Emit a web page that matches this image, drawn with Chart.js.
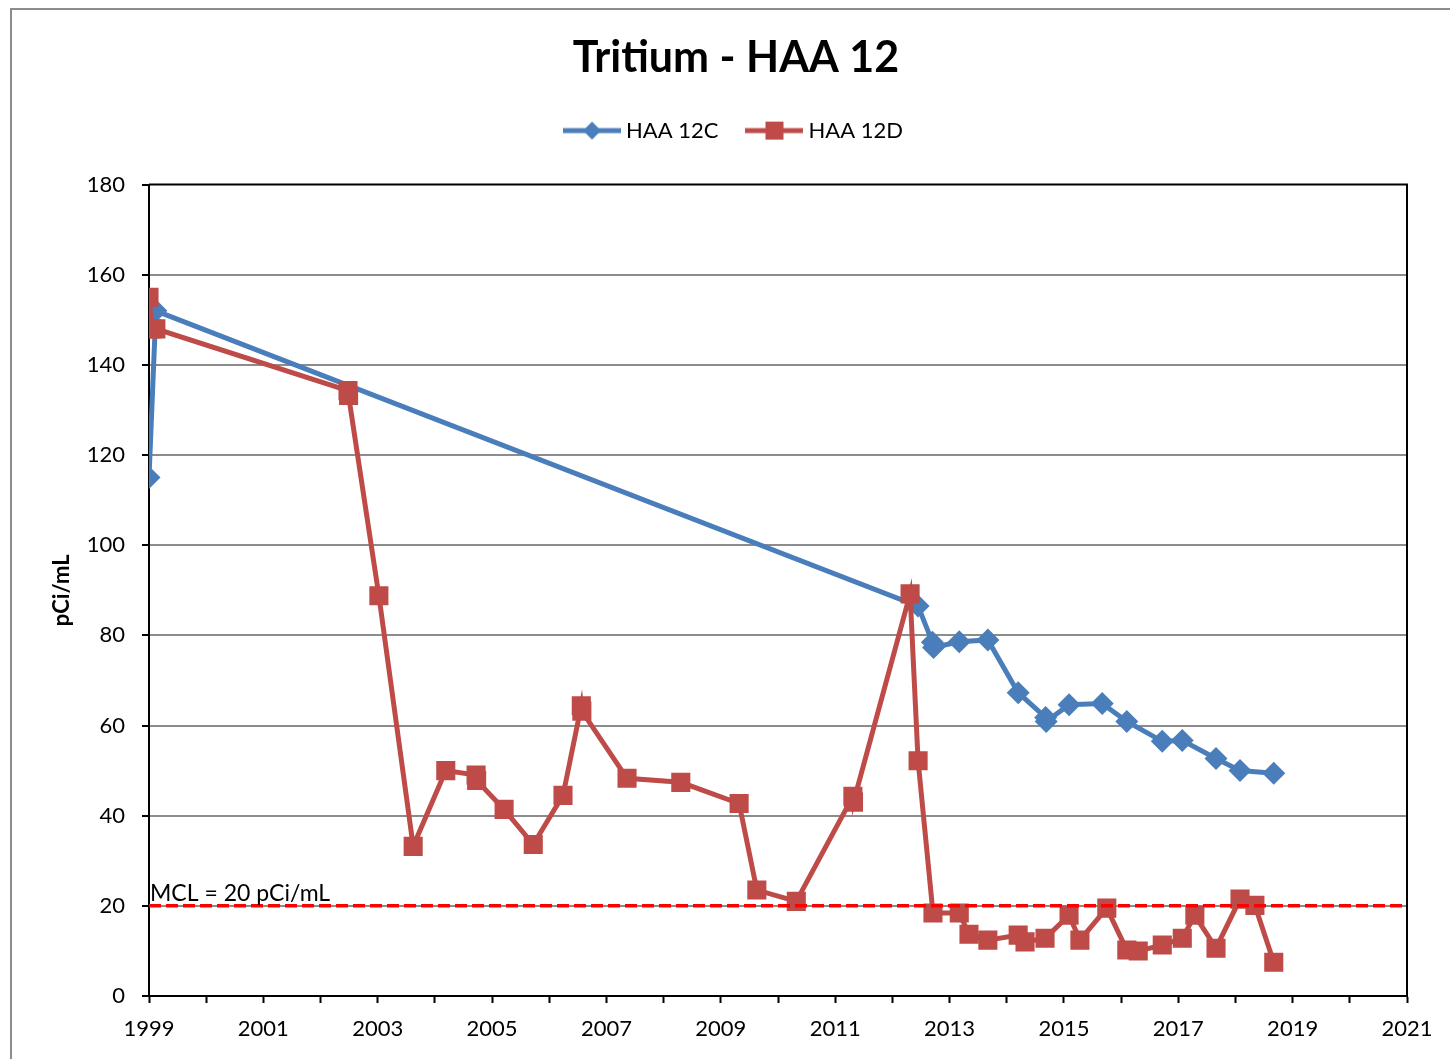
<!DOCTYPE html>
<html>
<head>
<meta charset="utf-8">
<script src="https://cdn.jsdelivr.net/npm/chart.js@4.4.1/dist/chart.umd.min.js"></script>
<style>
  html, body { margin: 0; padding: 0; background: #fff; }
  #frame {
    position: absolute; left: 10px; top: 8px;
    width: 1440px; height: 1051px;
    border-left: 2px solid #8c8c8c; border-top: 2px solid #8c8c8c;
  }
  #chartBox { display: block; }
</style>
</head>
<body>
<div id="frame"><canvas id="chartBox" width="1438" height="1049"></canvas></div>
<script>
// sample dates (decimal years) and tritium values, pCi/mL
const c12Years = [1999.0, 1999.12, 2012.45, 2012.7, 2012.72, 2013.17, 2013.67, 2014.2, 2014.68, 2014.69,
  2015.09, 2015.67, 2016.1, 2016.72, 2017.07, 2017.66, 2018.08, 2018.67];
const c12Values = [115, 152, 86.5, 78.5, 77.3, 78.6, 79.0, 67.3, 61.8, 60.9,
  64.6, 64.9, 60.9, 56.5, 56.7, 52.7, 50.0, 49.4];

const d12Years = [1999.0, 1999.05, 1999.12, 2002.48, 2002.49, 2003.02, 2003.62, 2004.19, 2004.72, 2004.73,
  2005.21, 2005.72, 2006.24, 2006.56, 2006.57, 2007.36, 2008.3, 2009.32, 2009.63, 2010.32,
  2011.31, 2011.32, 2012.31, 2012.45, 2012.71, 2013.17, 2013.34, 2013.67, 2014.2, 2014.32,
  2014.67, 2015.09, 2015.28, 2015.75, 2016.1, 2016.3, 2016.72, 2017.07, 2017.29, 2017.66,
  2018.08, 2018.34, 2018.67];
const d12Values = [155, 148, 148, 134.3, 133.2, 88.8, 33.2, 50.0, 49.0, 47.8,
  41.4, 33.6, 44.5, 64.4, 63.2, 48.3, 47.4, 42.7, 23.5, 21.0,
  44.3, 43.0, 89.2, 52.2, 18.4, 18.4, 13.7, 12.4, 13.5, 12.0,
  12.8, 17.9, 12.4, 19.5, 10.2, 10.0, 11.3, 12.8, 17.9, 10.6,
  21.5, 20.1, 7.5];

const seriesNames = ["HAA 12C", "HAA 12D"];
const mclValue = 20;
const mclLabel = "MCL = 20 pCi/mL";
const xRange = [1999, 2021];
const yRange = [0, 180];

const blue = "#4a7ebb";
const red = "#be4b48";
const font = "Lato";

function toPoints(xs, ys) {
  return xs.map((x, i) => ({ x: x, y: ys[i] }));
}

// legend swatch: line with the marker on it, like the spreadsheet legend
function legendSwatch(color, shape) {
  const c = document.createElement("canvas");
  c.width = 58; c.height = 22;
  const g = c.getContext("2d");
  g.strokeStyle = color; g.lineWidth = 5;
  g.beginPath(); g.moveTo(0, 11); g.lineTo(58, 11); g.stroke();
  g.fillStyle = color;
  if (shape === "diamond") {
    g.beginPath(); g.moveTo(29, 2); g.lineTo(38, 11); g.lineTo(29, 20); g.lineTo(20, 11); g.closePath(); g.fill();
  } else {
    g.fillRect(20, 2, 18, 18);
  }
  return c;
}

// extra room under the legend
const legendSpacer = {
  id: "legendSpacer",
  beforeInit(chart) {
    const fitLegend = chart.legend.fit;
    chart.legend.fit = function () {
      fitLegend.call(this);
      this.height += 33;
    };
  }
};

const plotFrame = {
  id: "plotFrame",
  afterDatasetsDraw(chart) {
    const { ctx, chartArea, scales } = chart;
    ctx.save();
    ctx.strokeStyle = "#000";
    ctx.lineWidth = 2;
    ctx.beginPath();
    ctx.moveTo(chartArea.left, chartArea.top);
    ctx.lineTo(chartArea.right, chartArea.top);
    ctx.lineTo(chartArea.right, chartArea.bottom);
    ctx.stroke();
    // MCL label
    ctx.fillStyle = "#000";
    ctx.font = "23px " + font;
    ctx.textAlign = "left";
    ctx.textBaseline = "bottom";
    ctx.fillText(mclLabel, scales.x.getPixelForValue(xRange[0]) + 1, scales.y.getPixelForValue(mclValue) - 1);
    ctx.restore();
  }
};

const chartBox = document.querySelector("#chartBox").getContext("2d");

new Chart(chartBox, {
  type: "line",
  data: {
    datasets: [
      {
        label: seriesNames[0],
        data: toPoints(c12Years, c12Values),
        borderColor: blue,
        backgroundColor: blue,
        borderWidth: 5,
        pointStyle: "rectRot",
        pointRadius: 11.5,
        pointHoverRadius: 11.5,
        pointBorderWidth: 0,
        order: 2,
        swatch: legendSwatch(blue, "diamond")
      },
      {
        label: seriesNames[1],
        data: toPoints(d12Years, d12Values),
        borderColor: red,
        backgroundColor: red,
        borderWidth: 5,
        pointStyle: "rect",
        pointRadius: 13.5,
        pointHoverRadius: 13.5,
        pointBorderWidth: 0,
        order: 1,
        swatch: legendSwatch(red, "square")
      },
      {
        label: "MCL",
        data: [{ x: xRange[0], y: mclValue }, { x: xRange[1], y: mclValue }],
        borderColor: "#ff0000",
        borderWidth: 3.5,
        borderDash: [12, 5],
        pointRadius: 0,
        order: 0
      }
    ]
  },
  options: {
    responsive: false,
    animation: false,
    layout: { padding: { left: 53, right: 43, top: 0, bottom: 0 } },
    plugins: {
      title: {
        display: true,
        text: "Tritium - HAA 12",
        color: "#000",
        font: { family: font, size: 43, weight: "bold" },
        padding: { top: 22, bottom: 3 }
      },
      legend: {
        display: true,
        labels: {
          color: "#000",
          font: { family: font, size: 22 },
          usePointStyle: true,
          pointStyleWidth: 46,
          padding: 33,
          filter: item => item.text !== "MCL",
          generateLabels: chart => chart.data.datasets.map((ds, i) => ({
            text: ds.label,
            pointStyle: ds.swatch,
            fillStyle: ds.borderColor,
            strokeStyle: ds.borderColor,
            lineWidth: 0,
            datasetIndex: i
          }))
        }
      },
      tooltip: { enabled: false }
    },
    scales: {
      x: {
        type: "linear",
        min: xRange[0],
        max: xRange[1],
        afterFit: scale => { scale.height = 63; },
        ticks: {
          stepSize: 1,
          autoSkip: false,
          maxRotation: 0,
          color: "#000",
          font: { family: font, size: 22 },
          padding: 13,
          callback: v => ((v - xRange[0]) % 2 === 0 ? String(v) : "")
        },
        grid: {
          drawOnChartArea: false,
          tickColor: "#000",
          tickLength: 7,
          tickWidth: 2
        },
        border: { color: "#000", width: 2 }
      },
      y: {
        min: yRange[0],
        max: yRange[1],
        afterFit: scale => { scale.width = 84; },
        ticks: {
          stepSize: 20,
          color: "#000",
          font: { family: font, size: 22 },
          padding: 17
        },
        grid: {
          color: ctx => (ctx.tick && (ctx.tick.value === yRange[0] || ctx.tick.value === yRange[1]) ? "rgba(0,0,0,0)" : "#8c8c8c"),
          lineWidth: 2,
          tickColor: "#000",
          tickLength: 7,
          tickWidth: 2
        },
        border: { color: "#000", width: 2 },
        title: {
          display: true,
          text: "pCi/mL",
          color: "#000",
          font: { family: font, size: 22, weight: "bold" },
          padding: { top: -16, bottom: 0 }
        }
      }
    }
  },
  plugins: [legendSpacer, plotFrame]
});
</script>
</body>
</html>
